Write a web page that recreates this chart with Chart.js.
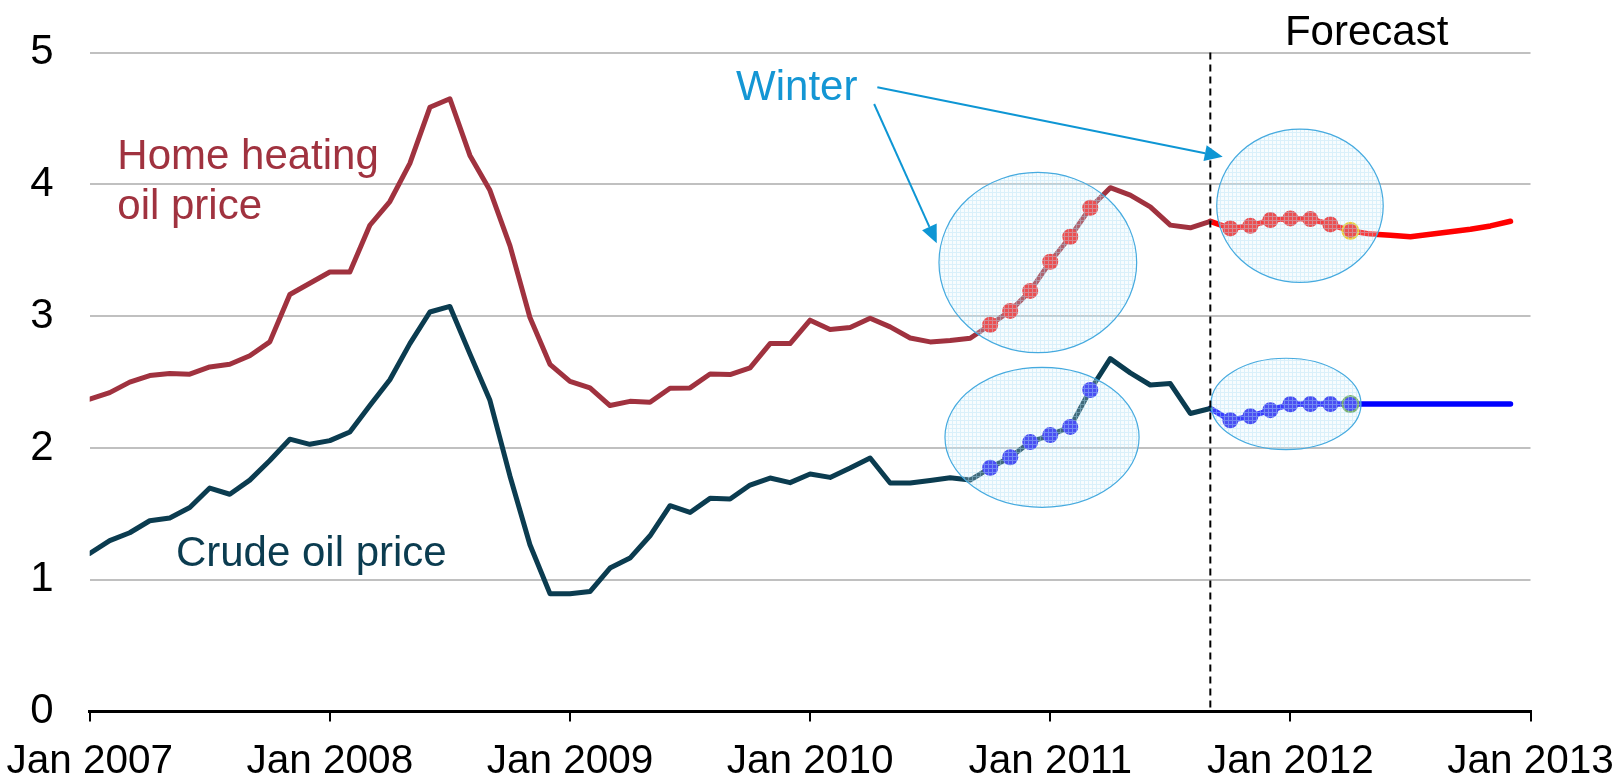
<!DOCTYPE html>
<html>
<head>
<meta charset="utf-8">
<script src="https://cdn.jsdelivr.net/npm/chart.js@4"></script>
<style>
  html, body { margin: 0; padding: 0; background: #fff; }
  #wrap { width: 1617px; height: 777px; position: relative; }
</style>
</head>
<body>
<div id="wrap"><canvas id="chart"></canvas></div>
<script>
// monthly prices, Jan 2007 .. Dec 2012 (index 0 = Jan 2007)
const heatingOil = [
  2.37, 2.42, 2.50, 2.55, 2.565, 2.56, 2.615, 2.635, 2.70, 2.805, 3.165, 3.25,
  3.335, 3.335, 3.69, 3.87, 4.16, 4.585, 4.65, 4.22, 3.955, 3.535, 2.99, 2.635,
  2.506, 2.456, 2.322, 2.354, 2.347, 2.453, 2.456, 2.562, 2.557, 2.608, 2.792, 2.792,
  2.97, 2.899, 2.914, 2.985, 2.919, 2.835, 2.805, 2.815, 2.833, 2.935, 3.04, 3.192,
  3.413, 3.603, 3.823, 3.975, 3.919, 3.83, 3.691, 3.671, 3.72, 3.666, 3.686, 3.729,
  3.742, 3.737, 3.696, 3.648, 3.623, 3.615, 3.603, 3.622, 3.64, 3.66, 3.685, 3.72
];
const crudeOil = [
  1.20, 1.297, 1.357, 1.448, 1.469, 1.548, 1.696, 1.649, 1.756, 1.905, 2.067, 2.028,
  2.056, 2.122, 2.322, 2.518, 2.792, 3.032, 3.074, 2.714, 2.362, 1.788, 1.266, 0.895,
  0.894, 0.911, 1.089, 1.165, 1.334, 1.562, 1.511, 1.618, 1.613, 1.719, 1.772, 1.737,
  1.803, 1.777, 1.848, 1.924, 1.734, 1.734, 1.754, 1.774, 1.757, 1.85, 1.93, 2.045,
  2.098, 2.16, 2.44, 2.678, 2.57, 2.478, 2.489, 2.262, 2.30, 2.21, 2.24, 2.287,
  2.332, 2.333, 2.333, 2.333, 2.333, 2.333, 2.333, 2.333, 2.333, 2.333, 2.333, 2.333
];
const xTickLabels = ['Jan 2007', 'Jan 2008', 'Jan 2009', 'Jan 2010', 'Jan 2011', 'Jan 2012', 'Jan 2013'];
const yTickValues = [0, 1, 2, 3, 4, 5];
const forecastStart = 56; // Sep 2011
const winterPast = [45, 46, 47, 48, 49, 50];          // Oct 2010 - Mar 2011
const winterAhead = [57, 58, 59, 60, 61, 62, 63];     // Oct 2011 - Apr 2012

const FONT = "'Liberation Sans', Arial, sans-serif";
const HEAT_DARK = '#A0323F';
const CRUDE_DARK = '#0B3C50';
const WINTER_BLUE = '#1496D4';

function toPoints(arr, from, to) {
  const out = [];
  for (let i = from; i <= to; i++) out.push({ x: i, y: arr[i] });
  return out;
}

function dotRadius(c) {
  const x = c.raw.x;
  return (winterPast.includes(x) || winterAhead.includes(x)) ? 8 : 0;
}

function lastDotBorder(color) {
  return c => (c.raw.x === winterAhead[winterAhead.length - 1] ? color : 'rgba(0,0,0,0)');
}

const datasets = [
  {
    data: toPoints(heatingOil, 0, forecastStart),
    borderColor: HEAT_DARK, borderWidth: 5,
    pointRadius: dotRadius, pointBackgroundColor: '#F01818', pointBorderWidth: 0
  },
  {
    data: toPoints(heatingOil, forecastStart, heatingOil.length - 1),
    borderColor: '#FF0000', borderWidth: 5.5,
    pointRadius: dotRadius, pointBackgroundColor: '#F01818',
    pointBorderColor: lastDotBorder('#F2C200'), pointBorderWidth: 2
  },
  {
    data: toPoints(crudeOil, 0, forecastStart),
    borderColor: CRUDE_DARK, borderWidth: 5,
    pointRadius: dotRadius, pointBackgroundColor: '#1818F0', pointBorderWidth: 0
  },
  {
    data: toPoints(crudeOil, forecastStart, crudeOil.length - 1),
    borderColor: '#0000FF', borderWidth: 5.5,
    pointRadius: dotRadius, pointBackgroundColor: '#1818F0',
    pointBorderColor: lastDotBorder('#5C9C40'), pointBorderWidth: 2
  }
];
datasets.forEach(d => {
  d.tension = 0;
  d.borderJoinStyle = 'round';
  d.borderCapStyle = 'round';
  d.pointHoverRadius = 0;
});

// annotation geometry in data units (months, price)
const ellipses = [
  { x: 47.38, y: 3.407, rx: 4.94, ry: 0.684 },
  { x: 47.59, y: 2.081, rx: 4.85, ry: 0.531 },
  { x: 60.48, y: 3.838, rx: 4.16, ry: 0.582 },
  { x: 59.78, y: 2.334, rx: 3.75, ry: 0.347 }
];
const arrows = [
  { from: [39.2, 4.61], to: [42.33, 3.553] },
  { from: [39.36, 4.737], to: [56.62, 4.21] }
];
const labels = [
  { text: 'Home heating', x: 1.38, y: 4.117, color: HEAT_DARK, align: 'left' },
  { text: 'oil price', x: 1.38, y: 3.737, color: HEAT_DARK, align: 'left' },
  { text: 'Crude oil price', x: 4.31, y: 1.105, color: CRUDE_DARK, align: 'left' },
  { text: 'Winter', x: 32.3, y: 4.64, color: WINTER_BLUE, align: 'left' },
  { text: 'Forecast', x: 63.81, y: 5.058, color: '#000', align: 'center' }
];

function makePattern(ctx) {
  const c = document.createElement('canvas');
  c.width = 4; c.height = 4;
  const p = c.getContext('2d');
  p.fillStyle = 'rgba(225,243,252,0.25)';
  p.fillRect(0, 0, 4, 4);
  p.fillStyle = 'rgba(175,222,246,0.4)';
  p.fillRect(0, 0, 4, 1);
  p.fillRect(0, 1, 1, 3);
  return ctx.createPattern(c, 'repeat');
}

const annotations = {
  id: 'annotations',
  afterDatasetsDraw(chart) {
    const ctx = chart.ctx;
    const xs = chart.scales.x, ys = chart.scales.y;
    const px = v => xs.getPixelForValue(v);
    const py = v => ys.getPixelForValue(v);
    ctx.save();

    // winter ellipses
    const pattern = makePattern(ctx);
    ellipses.forEach(e => {
      const cx = px(e.x), cy = py(e.y);
      const rx = px(e.x + e.rx) - cx, ry = cy - py(e.y + e.ry);
      ctx.beginPath();
      ctx.ellipse(cx, cy, rx, ry, 0, 0, Math.PI * 2);
      ctx.fillStyle = pattern;
      ctx.fill();
      ctx.lineWidth = 1.2;
      ctx.strokeStyle = '#45AADF';
      ctx.stroke();
    });

    // forecast divider
    const fx = px(forecastStart);
    ctx.beginPath();
    ctx.setLineDash([7, 5]);
    ctx.lineWidth = 2;
    ctx.strokeStyle = '#000';
    ctx.moveTo(fx, py(5));
    ctx.lineTo(fx, chart.chartArea.bottom);
    ctx.stroke();
    ctx.setLineDash([]);

    // arrows from "Winter"
    arrows.forEach(a => {
      const x0 = px(a.from[0]), y0 = py(a.from[1]);
      const x1 = px(a.to[0]), y1 = py(a.to[1]);
      const ang = Math.atan2(y1 - y0, x1 - x0);
      const len = 18, half = 8;
      const bx = x1 - Math.cos(ang) * len, by = y1 - Math.sin(ang) * len;
      ctx.beginPath();
      ctx.moveTo(x0, y0);
      ctx.lineTo(bx, by);
      ctx.lineWidth = 2;
      ctx.strokeStyle = '#0E96D4';
      ctx.stroke();
      ctx.beginPath();
      ctx.moveTo(x1, y1);
      ctx.lineTo(bx - Math.sin(ang) * half, by + Math.cos(ang) * half);
      ctx.lineTo(bx + Math.sin(ang) * half, by - Math.cos(ang) * half);
      ctx.closePath();
      ctx.fillStyle = '#0E96D4';
      ctx.fill();
    });

    // text labels
    ctx.font = '42px ' + FONT;
    ctx.textBaseline = 'alphabetic';
    labels.forEach(l => {
      ctx.fillStyle = l.color;
      ctx.textAlign = l.align;
      ctx.fillText(l.text, px(l.x), py(l.y));
    });
    ctx.restore();
  }
};

new Chart(document.getElementById('chart'), {
  type: 'line',
  data: { datasets: datasets },
  options: {
    responsive: true,
    maintainAspectRatio: false,
    animation: false,
    events: [],
    layout: { autoPadding: false, padding: { left: 0, right: 86.5, top: 52.6, bottom: 0 } },
    plugins: { legend: { display: false }, tooltip: { enabled: false } },
    scales: {
      x: {
        type: 'linear', min: 0, max: 72,
        afterBuildTicks: s => { s.ticks = xTickLabels.map((t, i) => ({ value: i * 12 })); },
        afterFit: s => { s.height = 65.4; s.paddingLeft = 0; s.paddingRight = 0; },
        ticks: {
          autoSkip: false, maxRotation: 0, padding: 16, color: '#000',
          font: { family: FONT, size: 40.5 },
          callback: v => xTickLabels[v / 12]
        },
        grid: { drawOnChartArea: false, drawTicks: true, tickLength: 10, color: '#000', lineWidth: 2 },
        border: { display: true, color: '#000', width: 3 }
      },
      y: {
        min: 0, max: 5,
        afterBuildTicks: s => { s.ticks = yTickValues.map(v => ({ value: v })); },
        afterFit: s => { s.width = 89.7; s.paddingTop = 0; s.paddingBottom = 0; },
        ticks: { padding: 36, color: '#000', font: { family: FONT, size: 42 } },
        grid: {
          drawTicks: false, lineWidth: 2,
          color: c => (c.tick && c.tick.value === 0 ? 'rgba(0,0,0,0)' : '#C0C0C0')
        },
        border: { display: false }
      }
    }
  },
  plugins: [annotations]
});
</script>
</body>
</html>
